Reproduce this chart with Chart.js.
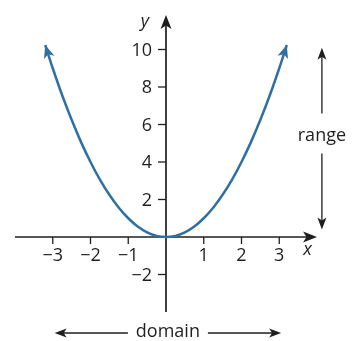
<!DOCTYPE html>
<html>
<head>
<meta charset="utf-8">
<script src="https://cdn.jsdelivr.net/npm/chart.js@4"></script>
<style>
  body { margin: 0; background: #fff; }
  canvas { display: block; }
</style>
</head>
<body>
<canvas id="myChart" width="360" height="341"></canvas>
<script>
// curve y = x squared
var xValues = [-3.2, -3, -2.75, -2.5, -2.25, -2, -1.75, -1.5, -1.25, -1, -0.75, -0.5, -0.25, 0,
               0.25, 0.5, 0.75, 1, 1.25, 1.5, 1.75, 2, 2.25, 2.5, 2.75, 3, 3.2];
var yValues = [10.24, 9, 7.56, 6.25, 5.06, 4, 3.06, 2.25, 1.56, 1, 0.56, 0.25, 0.06, 0,
               0.06, 0.25, 0.56, 1, 1.56, 2.25, 3.06, 4, 5.06, 6.25, 7.56, 9, 10.24];
var xTicks = [-3, -2, -1, 1, 2, 3];
var yTicks = [-2, 2, 4, 6, 8, 10];
var xTickLabels = ['\u22123', '\u22122', '\u22121', '1', '2', '3'];
var yTickLabels = ['\u22122', '2', '4', '6', '8', '10'];
var rangeSpan = [10.1, 0.4];     // y values of the range arrow
var domainSpan = [-2.95, 3.05];  // x values of the domain arrow

var axisColor = '#1f1f1f';
var curveColor = '#2f70a3';
var font = '"Open Sans", "DejaVu Sans", sans-serif';

function arrowHead(ctx, x, y, angle, len, half, color) {
    ctx.save();
    ctx.translate(x, y);
    ctx.rotate(angle);
    ctx.fillStyle = color;
    ctx.beginPath();
    ctx.moveTo(0, 0);
    ctx.lineTo(-len, -half);
    ctx.lineTo(-len * 0.75, 0);
    ctx.lineTo(-len, half);
    ctx.closePath();
    ctx.fill();
    ctx.restore();
}

var axesPlugin = {
    id: 'axesPlugin',
    beforeDatasetsDraw: function (chart) {
        var ctx = chart.ctx;
        var xs = chart.scales.x, ys = chart.scales.y;
        var area = chart.chartArea;
        var ox = xs.getPixelForValue(0), oy = ys.getPixelForValue(0);

        ctx.save();
        ctx.strokeStyle = axisColor;
        ctx.lineWidth = 1.7;
        // x axis
        ctx.beginPath();
        ctx.moveTo(area.left, oy);
        ctx.lineTo(area.right - 4, oy);
        ctx.stroke();
        arrowHead(ctx, area.right, oy, 0, 14, 5.5, axisColor);
        // y axis
        ctx.beginPath();
        ctx.moveTo(ox, area.bottom);
        ctx.lineTo(ox, area.top + 4);
        ctx.stroke();
        arrowHead(ctx, ox, area.top, -Math.PI / 2, 14, 5.5, axisColor);

        ctx.lineWidth = 1.3;
        ctx.fillStyle = axisColor;
        ctx.font = '18px ' + font;
        // x ticks
        ctx.textAlign = 'center';
        ctx.textBaseline = 'top';
        xTicks.forEach(function (v, i) {
            var px = xs.getPixelForValue(v);
            ctx.beginPath();
            ctx.moveTo(px, oy);
            ctx.lineTo(px, oy + 7);
            ctx.stroke();
            ctx.fillText(xTickLabels[i], px, oy + 10);
        });
        // y ticks
        ctx.textAlign = 'right';
        ctx.textBaseline = 'middle';
        yTicks.forEach(function (v, i) {
            var py = ys.getPixelForValue(v);
            ctx.beginPath();
            ctx.moveTo(ox - 8, py);
            ctx.lineTo(ox, py);
            ctx.stroke();
            ctx.fillText(yTickLabels[i], ox - 14, py + 1);
        });

        // axis names
        ctx.font = 'italic 18px ' + font;
        ctx.textAlign = 'center';
        ctx.fillText('x', xs.getPixelForValue(3.75), oy + 13);
        ctx.fillText('y', ox - 21, area.top + 7);

        // range arrow
        ctx.font = '18px ' + font;
        var rx = xs.getPixelForValue(4.13);
        var rTop = ys.getPixelForValue(rangeSpan[0]);
        var rBot = ys.getPixelForValue(rangeSpan[1]);
        var rMid = (rTop + rBot) / 2 - 3;
        ctx.strokeStyle = axisColor;
        ctx.lineWidth = 1.3;
        ctx.beginPath();
        ctx.moveTo(rx, rTop + 4);
        ctx.lineTo(rx, rMid - 22);
        ctx.moveTo(rx, rMid + 18);
        ctx.lineTo(rx, rBot - 4);
        ctx.stroke();
        arrowHead(ctx, rx, rTop, -Math.PI / 2, 12, 4.5, axisColor);
        arrowHead(ctx, rx, rBot, Math.PI / 2, 12, 4.5, axisColor);
        ctx.fillText('range', rx, rMid);

        // domain arrow
        var dy = ys.getPixelForValue(-5.12);
        var dl = xs.getPixelForValue(domainSpan[0]);
        var dr = xs.getPixelForValue(domainSpan[1]);
        var dMid = (dl + dr) / 2;
        ctx.beginPath();
        ctx.moveTo(dl + 4, dy);
        ctx.lineTo(dMid - 40, dy);
        ctx.moveTo(dMid + 40, dy);
        ctx.lineTo(dr - 4, dy);
        ctx.stroke();
        arrowHead(ctx, dl, dy, Math.PI, 12, 4.5, axisColor);
        arrowHead(ctx, dr, dy, 0, 12, 4.5, axisColor);
        ctx.fillText('domain', dMid, dy - 1);
        ctx.restore();
    },
    afterDatasetsDraw: function (chart) {
        // arrow heads on both ends of the curve
        var pts = chart.getDatasetMeta(0).data;
        var ctx = chart.ctx;
        var n = pts.length;
        var a1 = Math.atan2(pts[0].y - pts[1].y, pts[0].x - pts[1].x);
        var a2 = Math.atan2(pts[n - 1].y - pts[n - 2].y, pts[n - 1].x - pts[n - 2].x);
        arrowHead(ctx, pts[0].x, pts[0].y, a1, 13, 5.5, curveColor);
        arrowHead(ctx, pts[n - 1].x, pts[n - 1].y, a2, 13, 5.5, curveColor);
    }
};

var ctx = document.getElementById('myChart').getContext('2d');
var myChart = new Chart(ctx, {
    type: 'line',
    data: {
        labels: xValues,
        datasets: [{
            data: xValues.map(function (x, i) { return { x: x, y: yValues[i] }; }),
            borderColor: curveColor,
            borderWidth: 2.5,
            pointRadius: 0,
            cubicInterpolationMode: 'monotone',
            fill: false
        }]
    },
    options: {
        responsive: false,
        animation: false,
        layout: { padding: { left: 15, right: 43, top: 15, bottom: 29 } },
        plugins: { legend: { display: false }, tooltip: { enabled: false } },
        scales: {
            x: { type: 'linear', min: -4, max: 4, display: false },
            y: { type: 'linear', min: -4, max: 11.84, display: false }
        }
    },
    plugins: [axesPlugin]
});
</script>
</body>
</html>
